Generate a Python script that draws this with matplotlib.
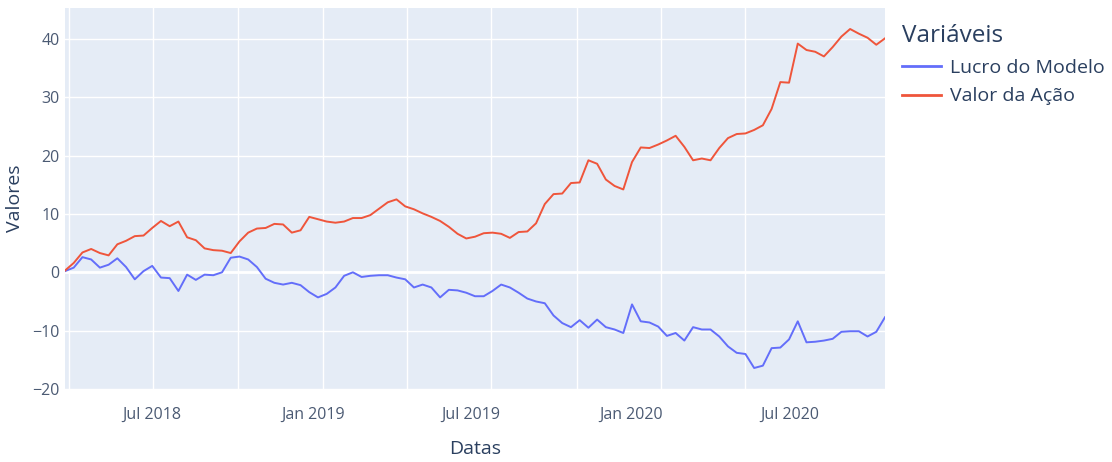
"""
Lucro do Modelo x Valor da Ação (estilo plotly)
"""

import matplotlib.pyplot as plt
import matplotlib as mpl
import pandas as pd

mpl.rcParams['font.family'] = ['Open Sans', 'DejaVu Sans']
mpl.rcParams['axes.unicode_minus'] = True

# Datas (amostradas a cada 10 dias)
datas = pd.date_range('2018-03-23', periods=95, freq='10D')

lucro_modelo = [
    0.2, 0.8, 2.6, 2.2, 0.8, 1.3, 2.4, 0.9, -1.2, 0.2,
    1.1, -0.9, -1.0, -3.2, -0.4, -1.3, -0.4, -0.5, 0.0, 2.5,
    2.7, 2.2, 0.9, -1.1, -1.8, -2.1, -1.8, -2.2, -3.4, -4.3,
    -3.7, -2.6, -0.6, 0.0, -0.8, -0.6, -0.5, -0.5, -0.9, -1.2,
    -2.6, -2.1, -2.6, -4.3, -3.0, -3.1, -3.5, -4.1, -4.1, -3.2,
    -2.1, -2.6, -3.5, -4.5, -5.0, -5.3, -7.4, -8.7, -9.4, -8.2,
    -9.5, -8.1, -9.4, -9.8, -10.4, -5.5, -8.4, -8.6, -9.3, -10.9,
    -10.4, -11.7, -9.4, -9.8, -9.8, -11.0, -12.7, -13.8, -14.0, -16.4,
    -16.0, -13.0, -12.9, -11.5, -8.4, -12.0, -11.9, -11.7, -11.4, -10.2,
    -10.1, -10.1, -11.0, -10.2, -7.7,
]

valor_acao = [
    0.3, 1.6, 3.4, 4.0, 3.3, 2.9, 4.8, 5.4, 6.2, 6.3,
    7.6, 8.8, 7.9, 8.7, 6.0, 5.5, 4.1, 3.8, 3.7, 3.3,
    5.3, 6.8, 7.5, 7.6, 8.3, 8.2, 6.8, 7.2, 9.5, 9.1,
    8.7, 8.5, 8.7, 9.3, 9.3, 9.8, 10.9, 12.0, 12.5, 11.3,
    10.8, 10.1, 9.5, 8.8, 7.8, 6.6, 5.8, 6.1, 6.7, 6.8,
    6.6, 5.9, 6.9, 7.0, 8.4, 11.7, 13.4, 13.5, 15.3, 15.4,
    19.2, 18.6, 15.9, 14.8, 14.2, 18.9, 21.4, 21.3, 21.9, 22.6,
    23.4, 21.5, 19.2, 19.5, 19.2, 21.3, 23.0, 23.7, 23.8, 24.4,
    25.2, 28.0, 32.6, 32.5, 39.2, 38.1, 37.8, 37.0, 38.6, 40.4,
    41.7, 40.9, 40.2, 39.0, 40.1,
]

tick_datas = ['2018-07-01', '2019-01-01', '2019-07-01', '2020-01-01', '2020-07-01']
tick_labels = ['Jul 2018', 'Jan 2019', 'Jul 2019', 'Jan 2020', 'Jul 2020']
grade_datas = ['2018-03-28', '2018-07-02', '2018-10-07', '2019-01-13', '2019-04-19',
               '2019-07-24', '2019-10-31', '2020-02-04', '2020-05-11']

TEXT = '#2a3f5f'
TICK = '#4b5a73'

fig = plt.figure(figsize=(11.12, 4.62), dpi=100)
ax = fig.add_axes([65 / 1112, 73 / 462, 820 / 1112, 381 / 462])
ax.set_facecolor('#E5ECF6')

ax.plot(datas, lucro_modelo, color='#636EFA', linewidth=1.4, label='Lucro do Modelo')
ax.plot(datas, valor_acao, color='#EF553B', linewidth=1.4, label='Valor da Ação')
ax.axhline(0, color='white', linewidth=2, zorder=1)

ax.set_xlim(datas[0], datas[-1])
ax.set_ylim(-20, 45.3)
ax.set_yticks([-20, -10, 0, 10, 20, 30, 40])

ax.set_xticks(pd.to_datetime(tick_datas))
ax.set_xticklabels(tick_labels)
ax.set_xticks(pd.to_datetime(grade_datas), minor=True)

ax.set_axisbelow(True)
ax.grid(axis='y', which='major', color='white', linewidth=1)
ax.grid(axis='x', which='minor', color='white', linewidth=1)
ax.grid(axis='x', which='major', visible=False)

for s in ax.spines.values():
    s.set_visible(False)
ax.tick_params(axis='both', which='both', length=0, colors=TICK, labelsize=11.5)
ax.tick_params(axis='x', pad=13)
ax.tick_params(axis='y', pad=4)

ax.set_xlabel('Datas', fontsize=14, color=TEXT, labelpad=12)
ax.set_ylabel('Valores', fontsize=14, color=TEXT, labelpad=6)

leg = ax.legend(title='Variáveis', loc='upper left',
                bbox_to_anchor=(902 / 1112, 1 - 24 / 462), bbox_transform=fig.transFigure,
                frameon=False, fontsize=14, title_fontsize=17.5,
                handlelength=2.0, handletextpad=0.45, labelspacing=0.55,
                borderpad=0, borderaxespad=0)
leg._legend_box.align = 'left'
leg.get_title().set_color(TEXT)
for t in leg.get_texts():
    t.set_color(TEXT)
for h in leg.get_lines():
    h.set_linewidth(2)

plt.savefig('out.png', dpi=100)
plt.close()
